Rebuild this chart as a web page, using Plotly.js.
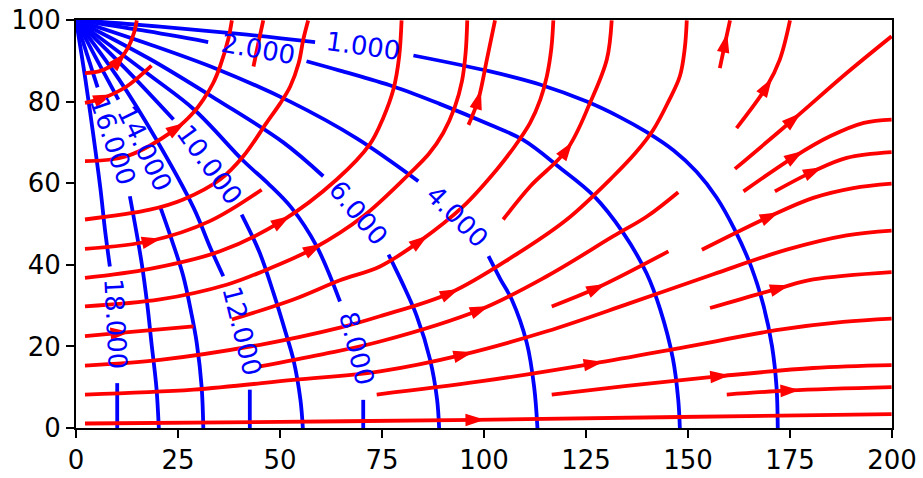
<!DOCTYPE html>
<html>
<head>
<meta charset="utf-8">
<script src="https://cdn.plot.ly/plotly-3.0.1.min.js"></script>
<style>html,body{margin:0;padding:0;background:#fff}#chart{width:923px;height:478px}</style>
</head>
<body>
<div id="chart"></div>
<script>
// ---------- axis ticks ----------
const xTicks = [0, 25, 50, 75, 100, 125, 150, 175, 200];
const yTicks = [0, 20, 40, 60, 80, 100];

// ---------- contour lines (levels, traced paths) ----------
const contourLevels = [1, 2, 4, 6, 8, 10, 12, 14, 16, 18];
const contourLabels = ["1.000", "2.000", "4.000", "6.000", "8.000", "10.000", "12.000", "14.000", "16.000", "18.000"];
// part of each contour before its inline label
const contourPreX = [
  [0, 20.6, 40, 58.6],
  [0, 16, 32.4],
  [0, 18.1, 34.5, 52.5, 68.8, 83.9],
  [0, 18, 34.5, 50.8, 60.6],
  [0, 18, 29, 41, 47, 52.8, 59, 64.7],
  [0, 12, 23.9],
  [0, 10.5, 19.5, 28.8, 33, 36.1],
  [0, 5, 10.4],
  [0, 5.3],
  [0, 2.3, 4.2, 6.0, 7.1, 8.3]
];
const contourPreY = [
  [100, 98.4, 96.6, 94.6],
  [100, 97.5, 94.6],
  [100, 94.0, 88.0, 80.0, 71.0, 60.5],
  [100, 90.5, 80.5, 70.0, 61.7],
  [100, 86.5, 78, 65.5, 60, 54, 44.5, 31.0],
  [100, 88.2, 75.6],
  [100, 85.5, 71, 54, 44, 37.2],
  [100, 90.5, 80.5],
  [100, 83.5],
  [100, 85.5, 72.1, 58.5, 48.6, 39.6]
];
// part of each contour after its inline label
const contourPostX = [
  [82.7, 101.5, 113.7, 125.2, 133.3, 139.9, 146.5, 152.1, 157.0, 161.5, 165.5, 168.5, 170.6, 171.7, 172.0],
  [56.5, 64.7, 77.8, 89, 101.5, 109.6, 118.6, 126.8, 134.0, 139.9, 143.2, 146.3, 147.6, 148.0],
  [101.1, 104.0, 106.8, 110.5, 112.3, 113.1],
  [76.6, 80, 83.5, 86.8, 88.5, 89.0],
  [70.4, 70.4],
  [40.6, 45, 48.4, 51.5, 53.3, 55.0, 55.6],
  [42.6, 42.6],
  [20.6, 23.5, 26.3, 28.3, 29.6, 30.8, 31.2],
  [13.2, 16.1, 17.5, 18.5, 19.7, 20.3],
  [10.1, 10.1]
];
const contourPostY = [
  [91.3, 87.4, 84.2, 80.0, 76.2, 72.5, 68.0, 62.8, 56.5, 48.5, 39.5, 30, 20, 10, 0],
  [89.9, 87.6, 83.7, 79.5, 74.3, 70.6, 63.8, 57.0, 48.0, 37.8, 29.0, 17, 7, 0],
  [42.1, 36.5, 31.5, 20.8, 10, 0],
  [42.5, 35.5, 27.5, 16.7, 7, 0],
  [6.9, 0],
  [52.3, 43, 33.1, 23, 16.7, 7, 0],
  [9.4, 0],
  [54.3, 46, 37.2, 28, 20.8, 10, 0],
  [56.8, 40.4, 30, 20.8, 10, 0],
  [11.0, 0]
];
// inline label positions and angles
const labelX = [70.3, 44.5, 93.3, 69.2, 68.8, 32.8, 40.6, 16.9, 9.0, 9.7];
const labelY = [93.7, 93.0, 51.9, 52.7, 19.6, 64.5, 23.7, 68.4, 70.3, 25.5];
const labelAngle = [8, 10, 45, 50, 76, 54, 76, 64, 71, 87];

// ---------- streamlines ----------
const streamX = [
  [2.2, 5.6, 8.4, 10.6, 12.8, 14.2, 14.9],
  [2.2, 6.7, 12.4, 18.5],
  [2.2, 12.4, 24.7, 28.5, 31.2, 33.6, 35.3, 37.3, 38.2],
  [2.2, 18.1, 26.3, 35.3, 41.0, 46.7, 50.0, 52.5, 54.6, 55.7, 56.9],
  [2.2, 18.5, 32.8, 45.5],
  [2.2, 18.1, 35.3, 50.4, 63.9, 72.0, 75.3, 77.8, 79.2, 79.8],
  [2.2, 20.6, 36.9, 46.7, 58.2, 70.4, 81.9, 86.5, 90.0, 92.8, 94.6, 95.5, 95.9],
  [2.2, 10.8, 28.8],
  [38.2, 53.3, 64.7, 74.5, 84.3, 94.9, 103.1, 107.5, 111.3, 113.8, 115.4, 116.5, 117.0],
  [2.2, 20.6, 45.1, 64.7, 74.5, 91.7, 107.2, 120.3, 131.7, 137.2, 141.5, 145.2, 148.0, 149.2, 149.7],
  [45.1, 60.0, 74.5, 99.0, 115.4, 131.7, 140.0, 147.6],
  [2.2, 28.8, 53.3, 74.5, 94.9, 115.4, 135.8, 156.2, 174.2, 188.9, 199.9],
  [73.7, 99.0, 126.8, 148.0, 172.5, 188.0, 199.9],
  [116.6, 135.0, 157.8, 180.7, 199.9],
  [159.5, 175.0, 199.9],
  [2.2, 50.0, 97.8, 148.0, 199.9],
  [116.6, 127.6, 145.2],
  [155.4, 172.5, 180.7, 199.9],
  [153.4, 170.1, 180.7, 190.5, 199.9],
  [171.3, 180.7, 188.9, 199.9],
  [163.6, 176.2, 184.8, 193.1, 199.9],
  [161.5, 175.8, 188.9, 199.9],
  [161.9, 169.3, 172.5, 175.0],
  [157.8, 159.1, 160.3],
  [96.2, 98.6, 100.7, 102.7],
  [104.7, 111.3, 120.3, 126.0, 130.1, 131.3],
  [43.5, 44.7, 45.9]
];
const streamY = [
  [87.0, 87.4, 88.6, 90.2, 93.3, 96.8, 99.9],
  [79.7, 80.9, 83.7, 88.8],
  [65.4, 66.6, 73.5, 77.0, 80.5, 84.5, 88.6, 95.2, 99.9],
  [51.1, 53.5, 56.0, 60.9, 66.6, 74.8, 79.5, 83.7, 89.5, 95.2, 99.9],
  [43.9, 45.9, 50.7, 58.4],
  [36.8, 39.0, 43.3, 50.7, 60.9, 69.5, 76.0, 83.0, 91.0, 99.9],
  [29.8, 31.5, 35.1, 38.8, 44.0, 51.9, 62.5, 67.2, 72.3, 78.5, 85.0, 92.0, 99.9],
  [22.5, 23.3, 24.9],
  [26.6, 31.5, 36.2, 39.6, 45.8, 54.3, 63.3, 69.0, 74.8, 80.5, 86.2, 93.0, 99.9],
  [15.3, 16.7, 20.4, 24.6, 27.4, 33.1, 42.1, 51.1, 61.7, 67.5, 73.1, 80.0, 86.2, 93.0, 99.9],
  [15.1, 18.0, 21.2, 29.0, 37.2, 47.0, 51.9, 57.8],
  [8.2, 9.4, 11.8, 13.9, 18.0, 23.7, 30.6, 37.7, 43.7, 47.2, 48.4],
  [8.2, 11.4, 15.8, 19.6, 24.1, 26.0, 26.8],
  [8.2, 10.3, 12.7, 14.7, 15.4],
  [8.2, 9.2, 10.0],
  [1.1, 1.5, 2.0, 2.7, 3.4],
  [29.8, 34.3, 43.3],
  [29.4, 34.3, 36.4, 38.2],
  [43.7, 51.9, 56.4, 58.8, 59.9],
  [58.0, 62.9, 66.2, 67.6],
  [58.0, 66.6, 71.5, 74.8, 75.6],
  [63.5, 75.6, 87.0, 96.0],
  [73.5, 83.7, 90.3, 99.9],
  [88.2, 94.4, 99.9],
  [74.3, 80.5, 90.3, 99.9],
  [51.1, 59.2, 68.2, 79.7, 90.3, 99.9],
  [88.6, 94.4, 99.9]
];
// index of the vertex where each streamline carries its arrow (-1: none)
const streamArrow = [3, 1, 2, -1, 1, 3, 4, 1, 4, 5, 3, 4, 2, 2, 1, 2, 1, 1, 1, 1, 1, 1, 1, 1, 1, 2, -1];

// ---------- build traces ----------
const BLUE = '#0000ff', RED = '#ff0000';
const traces = [];
function addLine(xs, ys, color) {
  traces.push({
    type: 'scatter', mode: 'lines', x: xs, y: ys,
    line: { color: color, width: 3.8, shape: 'spline', smoothing: 1.0 },
    hoverinfo: 'skip', showlegend: false
  });
}
contourPreX.forEach((xs, i) => addLine(xs, contourPreY[i], BLUE));
contourPostX.forEach((xs, i) => addLine(xs, contourPostY[i], BLUE));
streamX.forEach((xs, i) => addLine(xs, streamY[i], RED));

// arrow heads oriented along the streamline
const arrX = [], arrY = [], arrAng = [];
streamX.forEach((xs, i) => {
  const k = streamArrow[i];
  if (k < 0) return;
  const ys = streamY[i];
  const k0 = Math.max(0, k - 1), k1 = Math.min(xs.length - 1, k + 1);
  let dx = xs[k1] - xs[k0], dy = ys[k1] - ys[k0];
  const L = Math.hypot(dx, dy); dx /= L; dy /= L;
  arrX.push(xs[k] + dx * 1.8);
  arrY.push(ys[k] + dy * 1.8);
  arrAng.push(Math.atan2(dx, dy) * 180 / Math.PI);
});
traces.push({
  type: 'scatter', mode: 'markers', x: arrX, y: arrY,
  marker: { symbol: 'arrow', size: 17, color: RED, angle: arrAng, line: { color: RED, width: 1.5 } },
  hoverinfo: 'skip', showlegend: false, cliponaxis: false
});

// contour labels
const annotations = contourLabels.map((t, i) => ({
  x: labelX[i], y: labelY[i], xref: 'x', yref: 'y', text: t,
  showarrow: false, textangle: labelAngle[i], xanchor: 'center', yanchor: 'middle',
  font: { family: 'DejaVu Sans', size: 26, color: BLUE }
}));

const axisCommon = {
  showgrid: false, zeroline: false, showline: true, mirror: true,
  linecolor: '#000', linewidth: 2, ticks: 'outside', ticklen: 8, tickwidth: 2, tickcolor: '#000',
  tickfont: { family: 'DejaVu Sans', size: 26, color: '#000' }
};

const layout = {
  width: 923, height: 478,
  margin: { l: 76, r: 31, t: 20, b: 50, pad: 0 },
  paper_bgcolor: '#fff', plot_bgcolor: '#fff',
  showlegend: false,
  xaxis: Object.assign({}, axisCommon, { range: [0, 200], tickvals: xTicks, ticktext: xTicks.map(String) }),
  yaxis: Object.assign({}, axisCommon, { range: [0, 100], tickvals: yTicks, ticktext: yTicks.map(String) }),
  annotations: annotations
};

Plotly.newPlot('chart', traces, layout, { displayModeBar: false, staticPlot: true });
</script>
</body>
</html>
